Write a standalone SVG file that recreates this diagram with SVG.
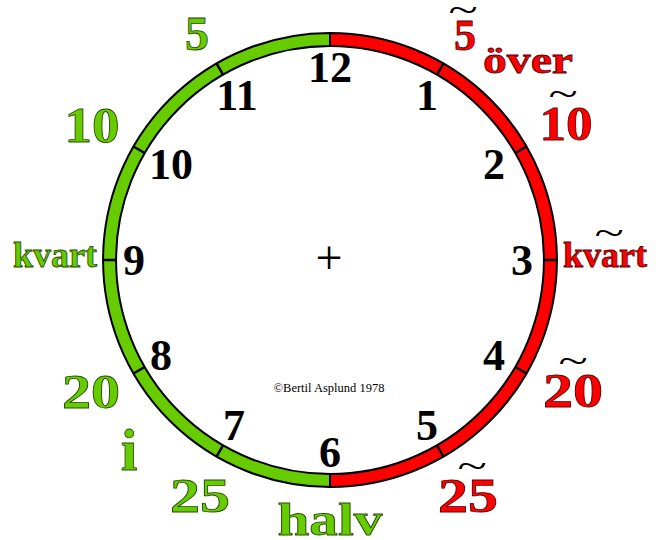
<svg xmlns="http://www.w3.org/2000/svg" width="663" height="540" viewBox="0 0 663 540">
<style>
.num{font-family:"Liberation Serif",serif;font-weight:bold;font-size:44px;fill:#000;text-anchor:middle}
.g{font-family:"Liberation Serif",serif;font-weight:bold;fill:#66cc00;stroke:#254a00;stroke-width:0.8px;text-anchor:middle}
.r{font-family:"Liberation Serif",serif;font-weight:bold;fill:#ff0000;stroke:#5a0000;stroke-width:0.8px;text-anchor:middle}
.t{font-family:"Liberation Serif",serif;font-size:36px;fill:#000;text-anchor:middle}
.tick{stroke:#000;stroke-width:2.5}
</style>
<rect width="663" height="540" fill="#fff"/>
<g id="ring">
<path d="M330 33 A227 227 0 0 0 330 487 L330 474 A214 214 0 0 1 330 46 Z" fill="#66cc00" stroke="#000" stroke-width="2"/>
<path d="M330 33 A227 227 0 0 1 330 487 L330 474 A214 214 0 0 0 330 46 Z" fill="#ff0000" stroke="#000" stroke-width="2"/>
<g transform="translate(330 260)">
<line class="tick" x1="0" y1="-214" x2="0" y2="-227" transform="rotate(30)"/>
<line class="tick" x1="0" y1="-214" x2="0" y2="-227" transform="rotate(60)"/>
<line class="tick" x1="0" y1="-214" x2="0" y2="-227" transform="rotate(90)"/>
<line class="tick" x1="0" y1="-214" x2="0" y2="-227" transform="rotate(120)"/>
<line class="tick" x1="0" y1="-214" x2="0" y2="-227" transform="rotate(150)"/>
<line class="tick" x1="0" y1="-214" x2="0" y2="-227" transform="rotate(210)"/>
<line class="tick" x1="0" y1="-214" x2="0" y2="-227" transform="rotate(240)"/>
<line class="tick" x1="0" y1="-214" x2="0" y2="-227" transform="rotate(270)"/>
<line class="tick" x1="0" y1="-214" x2="0" y2="-227" transform="rotate(300)"/>
<line class="tick" x1="0" y1="-214" x2="0" y2="-227" transform="rotate(330)"/>
</g>
</g>
<g id="hours">
<text class="num" x="330" y="82">12</text>
<text class="num" x="427" y="110">1</text>
<text class="num" x="494" y="179">2</text>
<text class="num" x="522" y="275">3</text>
<text class="num" x="494" y="370">4</text>
<text class="num" x="427" y="440">5</text>
<text class="num" x="330" y="467">6</text>
<text class="num" x="234" y="440">7</text>
<text class="num" x="161" y="370">8</text>
<text class="num" x="134" y="275">9</text>
<text class="num" x="171" y="179">10</text>
<text class="num" x="237" y="110">11</text>
</g>
<g id="center">
<text x="329" y="274" font-family="Liberation Serif,serif" font-size="48" text-anchor="middle">+</text>
<text x="329" y="392" font-family="Liberation Serif,serif" font-size="12.5" text-anchor="middle">©Bertil Asplund 1978</text>
</g>
<g id="labels-green">
<text class="g" x="197" y="50" font-size="48">5</text>
<text class="g" x="92" y="142" font-size="50" textLength="55" lengthAdjust="spacingAndGlyphs">10</text>
<text class="g" x="55" y="267" font-size="35" textLength="84" lengthAdjust="spacingAndGlyphs">kvart</text>
<text class="g" x="91" y="408" font-size="49" textLength="58" lengthAdjust="spacingAndGlyphs">20</text>
<text class="g" x="129" y="470" font-size="60">i</text>
<text class="g" x="200" y="512" font-size="49" textLength="60" lengthAdjust="spacingAndGlyphs">25</text>
<text class="g" x="330" y="535" font-size="46" textLength="105" lengthAdjust="spacingAndGlyphs">halv</text>
</g>
<g id="labels-red">
<text class="r" x="465" y="50" font-size="44">5</text>
<text class="t" transform="translate(463 22) scale(1.5 1)">~</text>
<text class="r" x="528" y="73" font-size="38" textLength="90" lengthAdjust="spacingAndGlyphs">över</text>
<text class="r" x="566" y="140" font-size="48" textLength="53" lengthAdjust="spacingAndGlyphs">10</text>
<text class="t" transform="translate(563 106) scale(1.5 1)">~</text>
<text class="r" x="605" y="267" font-size="35" textLength="84" lengthAdjust="spacingAndGlyphs">kvart</text>
<text class="t" transform="translate(609 245) scale(1.5 1)">~</text>
<text class="r" x="573" y="407" font-size="49" textLength="60" lengthAdjust="spacingAndGlyphs">20</text>
<text class="t" transform="translate(573 373) scale(1.5 1)">~</text>
<text class="r" x="468" y="512" font-size="49" textLength="60" lengthAdjust="spacingAndGlyphs">25</text>
<text class="t" transform="translate(472 478) scale(1.5 1)">~</text>
</g>
</svg>
